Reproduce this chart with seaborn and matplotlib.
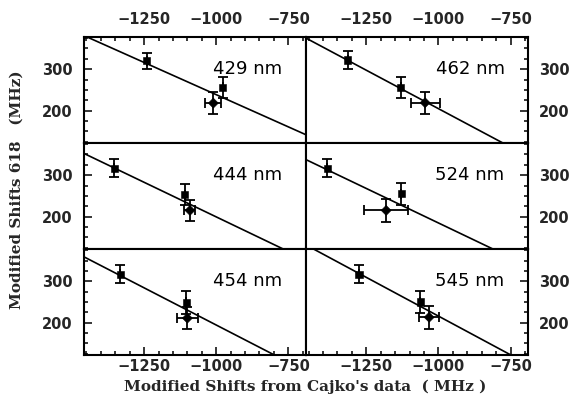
import numpy as np
import pandas as pd
import matplotlib
matplotlib.use("Agg")
import matplotlib.pyplot as plt
import seaborn as sns
from matplotlib.ticker import MultipleLocator

# ---- data ----
panel_labels = ["429 nm", "462 nm", "444 nm", "524 nm", "454 nm", "545 nm"]
x_vals = [[-1241, -977, -1010], [-1314, -1130, -1046], [-1353, -1109, -1091],
          [-1385, -1129, -1181], [-1333, -1104, -1100], [-1275, -1062, -1032]]
y_vals = [[320, 256, 218], [322, 256, 219], [317, 253, 215],
          [317, 255, 215], [317, 249, 211], [317, 250, 213]]
y_err = [[20, 26, 27], [21, 26, 27], [22, 26, 26],
         [22, 27, 28], [22, 27, 27], [22, 27, 28]]
x_err = [[0, 0, 28], [0, 0, 50], [0, 0, 19],
         [0, 0, 77], [0, 0, 36], [0, 0, 35]]
fit_slope = [-0.311, -0.371, -0.334, -0.333, -0.359, -0.374]
fit_at_m1000 = [238.4, 204.7, 199.4, 184.8, 194.4, 216.0]
point_kind = ["a", "b", "c"]

x_ticks = [-1250, -1000, -750]
y_ticks = [200, 300]
XLIM = (-1460, -690)
YLIM = (122, 378)

sns.set_theme(style="white")
plt.rcParams["font.family"] = ["DejaVu Sans"]

fig, axes = plt.subplots(3, 2, figsize=(5.7, 3.96), dpi=100, sharex=True, sharey=True,
                         gridspec_kw=dict(wspace=0, hspace=0))
fig.subplots_adjust(left=0.1465, right=0.926, top=0.907, bottom=0.1035)

for i, ax in enumerate(axes.flat):
    row, col = divmod(i, 2)
    df = pd.DataFrame({"x": x_vals[i], "y": y_vals[i], "xe": x_err[i],
                       "ye": y_err[i], "kind": point_kind})
    # fit line
    lx = np.array(XLIM, dtype=float)
    ly = fit_at_m1000[i] + fit_slope[i] * (lx + 1000)
    sns.lineplot(x=lx, y=ly, ax=ax, color="black", linewidth=1.2)
    ax.errorbar(df["x"], df["y"], yerr=df["ye"], xerr=df["xe"], fmt="none",
                ecolor="black", elinewidth=1.3, capsize=3.5, capthick=1.3)
    sns.scatterplot(data=df, x="x", y="y", style="kind",
                    markers={"a": "s", "b": "s", "c": "D"}, color="black",
                    s=26, edgecolor="black", legend=False, ax=ax, zorder=5)
    ax.set_xlim(*XLIM)
    ax.set_ylim(*YLIM)
    ax.set_xticks(x_ticks)
    ax.set_yticks(y_ticks)
    ax.xaxis.set_minor_locator(MultipleLocator(50))
    ax.yaxis.set_minor_locator(MultipleLocator(25))
    ax.set_xlabel("")
    ax.set_ylabel("")
    ax.tick_params(which="both", direction="in", color="black", width=1.1,
                   top=(row == 0), bottom=(row == 2), labeltop=(row == 0),
                   labelbottom=(row == 2), left=(col == 0), right=(col == 1),
                   labelleft=(col == 0), labelright=(col == 1),
                   labelsize=10.5)
    ax.tick_params(axis="y", which="major", pad=8)
    ax.tick_params(axis="x", which="major", pad=(7 if row == 0 else 3))
    ax.tick_params(which="major", length=6)
    ax.tick_params(which="minor", length=3)
    for lab in ax.get_xticklabels() + ax.get_yticklabels():
        lab.set_fontweight("bold")
    for sp in ax.spines.values():
        sp.set_visible(True)
        sp.set_color("black")
        sp.set_linewidth(1.5)
    ax.text(0.74, 0.70, panel_labels[i], transform=ax.transAxes, ha="center",
            va="center", fontsize=13, color="black")

fig.text(0.535, 0.022, "Modified Shifts from Cajko's data  ( MHz )", ha="center",
         va="center", fontsize=11, fontweight="bold", family="DejaVu Serif")
fig.text(0.03, 0.52, "Modified Shifts 618   (MHz)", ha="center", va="center",
         rotation=90, fontsize=11, fontweight="bold", family="DejaVu Serif")

fig.savefig("out.png", dpi=100, facecolor="white")
